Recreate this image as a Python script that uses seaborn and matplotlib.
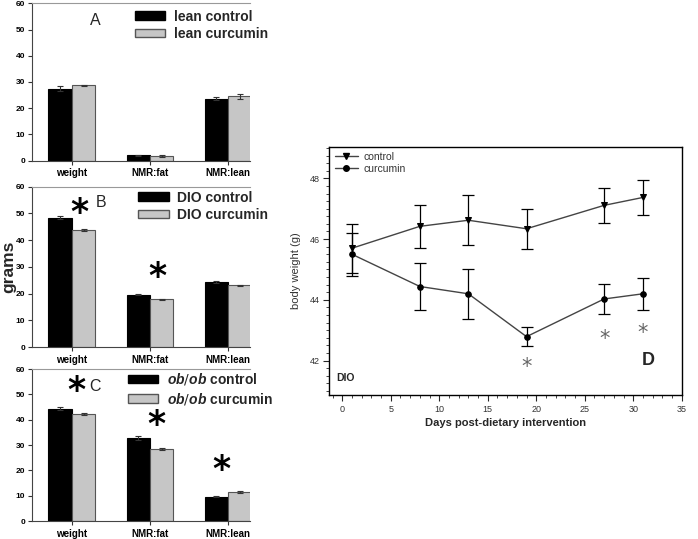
import numpy as np
import pandas as pd
import matplotlib
matplotlib.use('Agg')
import matplotlib.pyplot as plt
import seaborn as sns
from matplotlib.patches import Patch
from matplotlib.lines import Line2D
from matplotlib.ticker import MultipleLocator

# body composition, grams (mean, sem)
measures = ['weight', 'NMR:fat', 'NMR:lean']

lean_control = [27.4, 2.0, 23.6]
lean_control_err = [1.0, 0.2, 0.5]
lean_curcumin = [28.7, 1.8, 24.5]
lean_curcumin_err = [0.3, 0.5, 0.8]

dio_control = [48.4, 19.6, 24.3]
dio_control_err = [0.5, 0.2, 0.4]
dio_curcumin = [43.8, 17.8, 23.0]
dio_curcumin_err = [0.3, 0.3, 0.3]

ob_control = [44.3, 32.8, 9.6]
ob_control_err = [0.6, 0.9, 0.3]
ob_curcumin = [42.1, 28.6, 11.4]
ob_curcumin_err = [0.4, 0.4, 0.3]

# DIO body weight time course
days = [1, 8, 13, 19, 27, 31]
control_bw = [45.70, 46.42, 46.62, 46.34, 47.11, 47.37]
control_bw_err = [0.80, 0.70, 0.83, 0.65, 0.58, 0.58]
curcumin_bw = [45.50, 44.44, 44.20, 42.79, 44.03, 44.20]
curcumin_bw_err = [0.70, 0.78, 0.82, 0.32, 0.50, 0.52]
signif_days = [19, 27, 31]
signif_y = [41.8, 42.7, 42.9]

sns.set_style('ticks')
plt.rcParams['font.family'] = ['Liberation Sans', 'DejaVu Sans']
plt.rcParams['mathtext.fontset'] = 'custom'
plt.rcParams['mathtext.it'] = 'Liberation Sans:italic:bold'

fig = plt.figure(figsize=(6.98, 5.39), dpi=100)

W, H = 698.0, 539.0


def add_ax(left, top, right, bottom):
    return fig.add_axes([left / W, 1 - bottom / H, (right - left) / W, (bottom - top) / H])


def bar_panel(ax, ctrl, ctrl_err, cur, cur_err, labels, legend_anchor):
    df = pd.DataFrame({
        'measure': measures * 2,
        'value': ctrl + cur,
        'group': [labels[0]] * 3 + [labels[1]] * 3,
    })
    sns.barplot(data=df, x='measure', y='value', hue='group',
                palette=['black', '#c6c6c6'], width=0.6, errorbar=None,
                legend=False, ax=ax)
    edges = ['black', '#555555']
    for container, errs, ec in zip(ax.containers, [ctrl_err, cur_err], edges):
        for bar, e in zip(container, errs):
            bar.set_edgecolor(ec)
            bar.set_linewidth(0.8)
            x = bar.get_x() + bar.get_width() / 2
            ax.errorbar(x, bar.get_height(), yerr=e, fmt='none',
                        ecolor='#333333', elinewidth=0.8, capsize=2, capthick=0.8)
    ax.set_xlim(-0.51, 2.28)
    ax.set_ylim(0, 60)
    ax.set_yticks(range(0, 61, 10))
    ax.set_xlabel('')
    ax.set_ylabel('')
    ax.tick_params(axis='both', direction='out', length=3, width=0.8,
                   colors='#333333', pad=2)
    for lab in ax.get_yticklabels():
        lab.set_fontsize(6)
        lab.set_fontweight('bold')
        lab.set_color('black')
    for lab in ax.get_xticklabels():
        lab.set_fontsize(7)
        lab.set_fontweight('bold')
        lab.set_color('black')
    ax.tick_params(axis='x', pad=2.5)
    ax.spines['right'].set_visible(False)
    ax.spines['top'].set_color('#999999')
    ax.spines['left'].set_color('#444444')
    ax.spines['bottom'].set_color('#444444')
    handles = [Patch(facecolor='black', edgecolor='black'),
               Patch(facecolor='#c6c6c6', edgecolor='#555555')]
    ax.legend(handles, labels, loc='upper left', bbox_to_anchor=legend_anchor,
              frameon=False, handlelength=2.2, handleheight=0.55,
              handletextpad=0.6, labelspacing=0.25, borderpad=0,
              borderaxespad=0, prop={'weight': 'bold', 'size': 10})


def star(ax, x, y, size=25, color='black'):
    ax.text(x, y, '*', ha='center', va='center', fontsize=size,
            fontweight='bold', color=color, family='DejaVu Sans')


# Panel A
axA = add_ax(32, 3.3, 250, 160.7)
bar_panel(axA, lean_control, lean_control_err, lean_curcumin, lean_curcumin_err,
          ['lean control', 'lean curcumin'], (0.472, 0.96))
axA.text(0.3, 53.5, 'A', fontsize=11.5, ha='center', va='center')

# Panel B
axB = add_ax(32, 186.5, 250, 347)
bar_panel(axB, dio_control, dio_control_err, dio_curcumin, dio_curcumin_err,
          ['DIO control', 'DIO curcumin'], (0.486, 0.975))
star(axB, 0.1, 50.0)
star(axB, 1.09, 26.0)
axB.text(0.37, 54.0, 'B', fontsize=11.5, ha='center', va='center')

# Panel C
axC = add_ax(32, 369, 250, 521)
bar_panel(axC, ob_control, ob_control_err, ob_curcumin, ob_curcumin_err,
          [r'$\mathit{ob/ob}$ control', r'$\mathit{ob/ob}$ curcumin'], (0.44, 0.985))
star(axC, 0.06, 51.5)
star(axC, 1.08, 38.0)
star(axC, 1.92, 20.0)
axC.text(0.3, 53.0, 'C', fontsize=11.5, ha='center', va='center')

fig.text(9 / W, 1 - 267 / H, 'grams', rotation=90, ha='center', va='center',
         fontsize=12.5, fontweight='bold')

# Panel D
axD = add_ax(329.3, 146.7, 681.7, 395)
sns.lineplot(x=days, y=control_bw, marker='v', markersize=5, color='#444444',
             markerfacecolor='black', markeredgecolor='black', linewidth=1, ax=axD)
sns.lineplot(x=days, y=curcumin_bw, marker='o', markersize=4, color='#444444',
             markerfacecolor='black', markeredgecolor='black', linewidth=1, ax=axD)
axD.errorbar(days, control_bw, yerr=control_bw_err, fmt='none', ecolor='black',
             elinewidth=0.9, capsize=4, capthick=0.9)
axD.errorbar(days, curcumin_bw, yerr=curcumin_bw_err, fmt='none', ecolor='black',
             elinewidth=0.9, capsize=4, capthick=0.9)
for d, y in zip(signif_days, signif_y):
    axD.text(d, y, '*', ha='center', va='center', fontsize=15, color='#666666',
             family='DejaVu Sans')
axD.set_xlim(-1.34, 35)
axD.set_ylim(40.87, 49.04)
axD.set_xticks(range(0, 36, 5))
axD.set_yticks([42, 44, 46, 48])
axD.xaxis.set_minor_locator(MultipleLocator(1))
axD.yaxis.set_minor_locator(MultipleLocator(0.25))
axD.tick_params(axis='both', which='major', direction='out', length=4, width=0.8,
                labelsize=6.5, labelcolor='#333333', pad=3)
axD.tick_params(axis='both', which='minor', direction='out', length=2, width=0.6)
for sp in axD.spines.values():
    sp.set_color('black')
    sp.set_linewidth(1)
axD.set_xlabel('Days post-dietary intervention', fontsize=8, fontweight='bold', labelpad=3)
axD.set_ylabel('body weight (g)', fontsize=8, color='#333333', labelpad=6)
axD.text(-0.58, 41.42, 'DIO', fontsize=7.5, fontweight='bold', ha='left', va='center')
axD.text(31.6, 42.0, 'D', fontsize=13, fontweight='bold', ha='center', va='center')
d_handles = [Line2D([], [], color='#444444', lw=1, marker='v', markersize=5,
                    markerfacecolor='black', markeredgecolor='black'),
             Line2D([], [], color='#444444', lw=1, marker='o', markersize=4,
                    markerfacecolor='black', markeredgecolor='black')]
axD.legend(d_handles, ['control', 'curcumin'], loc='upper left',
           bbox_to_anchor=(0.016, 0.98), frameon=False, fontsize=7.5,
           handlelength=2.2, handletextpad=0.5, labelspacing=0.2,
           borderpad=0, borderaxespad=0, labelcolor='#333333')

fig.savefig('out.png', dpi=100)
